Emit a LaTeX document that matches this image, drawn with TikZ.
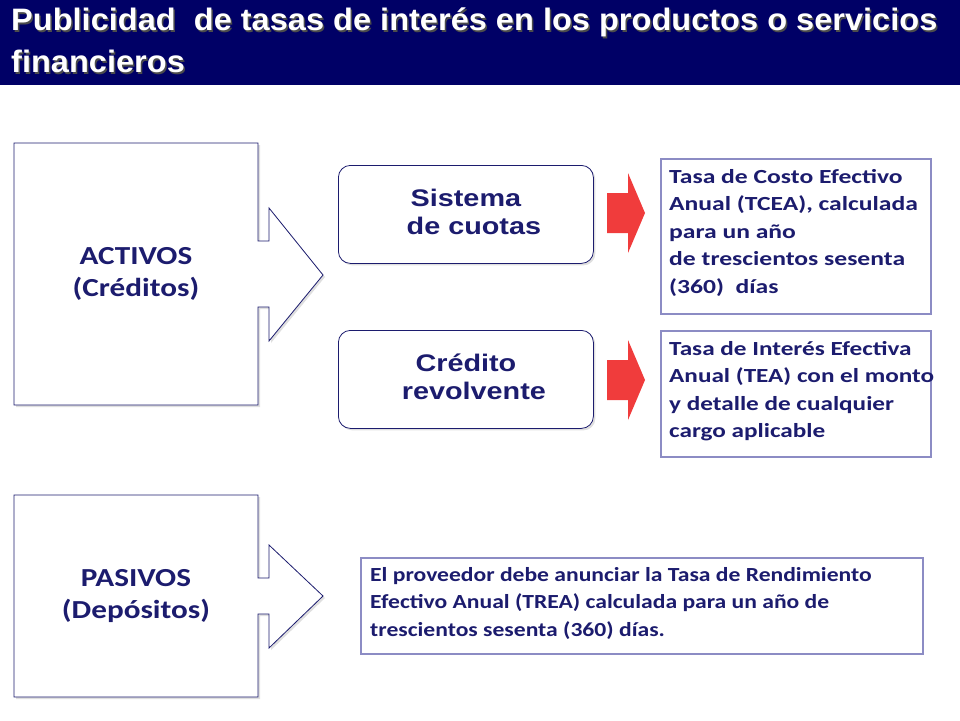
\documentclass[tikz,border=0pt]{standalone}
\usepackage{fontspec}
\setmainfont{Carlito}
\newfontfamily\arialf{Liberation Sans}
\usetikzlibrary{shadows}
\definecolor{navy}{HTML}{000066}
\definecolor{txtblue}{HTML}{1C1C6E}
\definecolor{lav}{HTML}{8C8CC4}
\definecolor{redar}{HTML}{F03C3C}
\newcommand\hsl[2]{\scalebox{#1}[1]{\begin{tabular}{@{}l@{}}#2\end{tabular}}}
\newcommand\hsc[2]{\scalebox{#1}[1]{\begin{tabular}{@{}c@{}}#2\end{tabular}}}
\begin{document}
\begin{tikzpicture}[x=1pt,y=-1pt,
  callout/.style={draw=txtblue,line width=0.8pt,fill=white,drop shadow={shadow xshift=2pt,shadow yshift=-2pt,opacity=0.25}},
  roundbox/.style={draw=txtblue,line width=0.8pt,rounded corners=12pt,fill=white,drop shadow={shadow xshift=2pt,shadow yshift=-2pt,opacity=0.25}},
  infobox/.style={draw=lav,line width=1.5pt,fill=white},
  infotext/.style={text=txtblue,font=\fontsize{20}{27.5}\selectfont\bfseries,anchor=north west,inner sep=0pt},
  bigtext/.style={text=txtblue,font=\fontsize{26}{32}\selectfont\bfseries},
  arialtext/.style={text=txtblue,font=\arialf\fontsize{24}{28}\selectfont\bfseries},
  titletext/.style={anchor=north west,inner sep=0pt,font=\arialf\fontsize{31}{42}\selectfont\bfseries},
  redarrow/.style={fill=redar,draw=none}]
\useasboundingbox (0,0) rectangle (960,720);
% title
\fill[navy] (0,0) rectangle (960,85);
\node[titletext,text=black!70] at (12.5,2.5) {\hsl{1.05}{Publicidad\ \ de tasas de interés en los productos o servicios\\financieros}};
\node[titletext,text=white] (title) at (11,1) {\hsl{1.05}{Publicidad\ \ de tasas de interés en los productos o servicios\\financieros}};
% ACTIVOS callout
\path[callout] (14,143) -- (258,143) -- (258,241) -- (269,241) -- (269,208) -- (323,275) -- (269,341) -- (269,307) -- (258,307) -- (258,405) -- (14,405) -- cycle;
\node[bigtext] (activos) at (136,274) {\hsc{1.2}{ACTIVOS\\(Créditos)}};
% PASIVOS callout
\path[callout] (14,495) -- (258,495) -- (258,578) -- (269,578) -- (269,545) -- (323,596) -- (269,648) -- (269,614) -- (258,614) -- (258,697) -- (14,697) -- cycle;
\node[bigtext] (pasivos) at (136,596) {\hsc{1.2}{PASIVOS\\(Depósitos)}};
% rounded boxes
\node[roundbox,minimum width=255pt,minimum height=98pt,anchor=north west] (sist) at (338,165) {};
\node[arialtext] at (sist.center) {\hsc{1.2}{Sistema\\\ \ de cuotas}};
\node[roundbox,minimum width=255pt,minimum height=98pt,anchor=north west] (cred) at (338,330) {};
\node[arialtext] at (cred.center) {\hsc{1.2}{Crédito\\\ \ revolvente}};
% red arrows
\fill[redarrow] (607,193) -- (628,193) -- (628,173) -- (645,213) -- (628,253) -- (628,233) -- (607,233) -- cycle;
\fill[redarrow] (607,360) -- (628,360) -- (628,340) -- (645,380) -- (628,420) -- (628,400) -- (607,400) -- cycle;
% info boxes
\node[infobox,minimum width=270pt,minimum height=155pt,anchor=north west] (tcea) at (660,158) {};
\node[infotext] at (669,164) {\hsl{1.28}{Tasa de Costo Efectivo\\Anual (TCEA), calculada\\para un año\\de trescientos sesenta\\(360)\ \ días}};
\node[infobox,minimum width=270pt,minimum height=126pt,anchor=north west] (tea) at (660,330) {};
\node[infotext] at (669,336) {\hsl{1.26}{Tasa de Interés Efectiva\\Anual (TEA) con el monto\\y detalle de cualquier\\cargo aplicable}};
\node[infobox,minimum width=562pt,minimum height=96pt,anchor=north west] (trea) at (360,557) {};
\node[infotext] at (370,562) {\hsl{1.18}{El proveedor debe anunciar la Tasa de Rendimiento\\Efectivo Anual (TREA) calculada para un año de\\trescientos sesenta (360) días.}};
\end{tikzpicture}
\end{document}
